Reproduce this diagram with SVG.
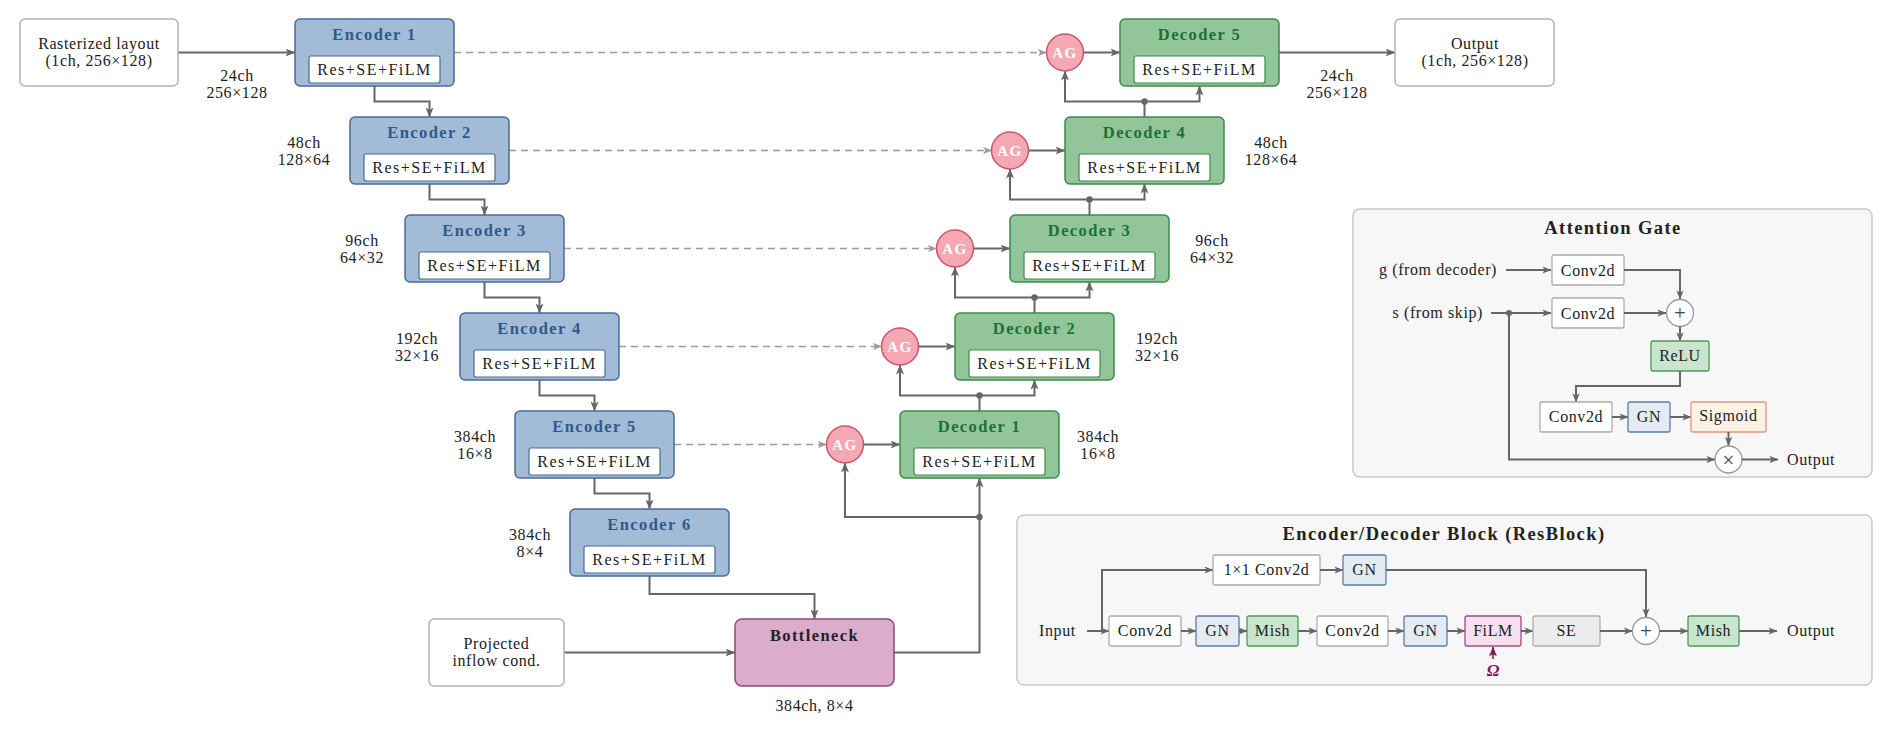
<svg xmlns="http://www.w3.org/2000/svg" width="1892" height="733" viewBox="0 0 1892 733">
<defs>
<style>
text{font-family:"Liberation Serif","Times New Roman",serif;fill:#222;}
.t{font-size:16px;letter-spacing:0.6px;}
.c{text-anchor:middle;}
.e{text-anchor:end;}
.opt{font-size:21px;text-anchor:middle;fill:#444;}
.res{font-size:16px;letter-spacing:1.5px;text-anchor:middle;}
.ttl{font-size:16.5px;font-weight:bold;letter-spacing:1.4px;text-anchor:middle;}
.enc-t{fill:#2f5a8b;}
.dec-t{fill:#1f7031;}
.ptitle{font-size:18.5px;font-weight:bold;letter-spacing:1.4px;text-anchor:middle;}
.ag-t{font-size:15px;font-weight:bold;letter-spacing:1.5px;text-anchor:middle;fill:#fff;}
.enc{fill:#a2bbd6;stroke:#4a6c96;stroke-width:1.5;}
.dec{fill:#93c59b;stroke:#3f8a4c;stroke-width:1.5;}
.in-e{fill:#fff;stroke:#4a6c96;stroke-width:1.2;}
.in-d{fill:#fff;stroke:#3f8a4c;stroke-width:1.2;}
.io{fill:#fff;stroke:#b3b3b3;stroke-width:1.5;}
.bott{fill:#dcadcb;stroke:#8c4a7a;stroke-width:1.5;}
.ag{fill:#f4a8b4;stroke:#c9566a;stroke-width:1.5;}
.panel{fill:#f7f7f7;stroke:#c9c9c9;stroke-width:1.5;}
.wb{fill:#fff;stroke:#acacac;stroke-width:1.3;}
.gn{fill:#e3ebf3;stroke:#5b7fa6;stroke-width:1.3;}
.gr{fill:#c9e5cd;stroke:#4e9a5c;stroke-width:1.3;}
.sig{fill:#fdf2e6;stroke:#e0987a;stroke-width:1.3;}
.film{fill:#f6e0ee;stroke:#9c4f86;stroke-width:1.3;}
.se{fill:#ececec;stroke:#b0b0b0;stroke-width:1.3;}
.op{fill:#fff;stroke:#9a9a9a;stroke-width:1.3;}
.ln{fill:none;stroke:#666;stroke-width:2;}
.la{fill:none;stroke:#666;stroke-width:2;marker-end:url(#ah);}
.ls{fill:none;stroke:#666;stroke-width:2;marker-end:url(#ahs);}
.dash{fill:none;stroke:#9a9a9a;stroke-width:1.5;stroke-dasharray:7 5;marker-end:url(#ahd);}
.dot{fill:#666;}
</style>
<marker id="ah" viewBox="0 0 10 8" refX="9.5" refY="4" markerWidth="10" markerHeight="8" markerUnits="userSpaceOnUse" orient="auto"><path d="M0,0 L10,4 L0,8 L2.5,4 Z" fill="#666"/></marker>
<marker id="ahs" viewBox="0 0 10 8" refX="9.5" refY="4" markerWidth="9" markerHeight="7.5" markerUnits="userSpaceOnUse" orient="auto"><path d="M0,0 L10,4 L0,8 L2.5,4 Z" fill="#666"/></marker>
<marker id="ahd" viewBox="0 0 10 8" refX="9.5" refY="4" markerWidth="9" markerHeight="7.5" markerUnits="userSpaceOnUse" orient="auto"><path d="M0,0 L10,4 L0,8 L2.5,4 Z" fill="#9a9a9a"/></marker>
<marker id="aho" viewBox="0 0 10 8" refX="9.5" refY="4" markerWidth="10" markerHeight="8" markerUnits="userSpaceOnUse" orient="auto"><path d="M0,0 L10,4 L0,8 L2.5,4 Z" fill="#7a1a5c"/></marker>
</defs>
<rect width="1892" height="733" fill="#fff"/>

<!-- connectors -->
<g id="connectors">
<path class="la" d="M178,52.5 H295"/>
<path class="la" d="M374.5,86 V101.5 H429.5 V117"/>
<path class="la" d="M429.5,184 V199.5 H484.5 V215"/>
<path class="la" d="M484.5,282 V297.5 H539.5 V313"/>
<path class="la" d="M539.5,380 V395.5 H594.5 V411"/>
<path class="la" d="M594.5,478 V493.5 H649.5 V509"/>
<path class="la" d="M649.5,576 V594 H814.5 V619"/>
<path class="la" d="M564,652.5 H735"/>
<path class="la" d="M894,652.5 H979.5 V478"/>
<path class="la" d="M979.5,517 H845 V463"/>
<circle class="dot" cx="979.5" cy="517" r="3.2"/>
<path class="dash" d="M454,52.5 H1046.5"/>
<path class="dash" d="M509,150.5 H991.5"/>
<path class="dash" d="M564,248.5 H936.5"/>
<path class="dash" d="M619,346.5 H881.5"/>
<path class="dash" d="M674,444.5 H826.5"/>
<path class="la" d="M863.5,444.5 H900"/>
<path class="la" d="M918.5,346.5 H955"/>
<path class="la" d="M973.5,248.5 H1010"/>
<path class="la" d="M1028.5,150.5 H1065"/>
<path class="la" d="M1083.5,52.5 H1120"/>
<path class="ln" d="M979.5,411 V395.5"/>
<path class="la" d="M979.5,395.5 H900 V365"/>
<path class="la" d="M979.5,395.5 H1034.5 V380"/>
<circle class="dot" cx="979.5" cy="395.5" r="3.2"/>
<path class="ln" d="M1034.5,313 V297.5"/>
<path class="la" d="M1034.5,297.5 H955 V267"/>
<path class="la" d="M1034.5,297.5 H1089.5 V282"/>
<circle class="dot" cx="1034.5" cy="297.5" r="3.2"/>
<path class="ln" d="M1089.5,215 V199.5"/>
<path class="la" d="M1089.5,199.5 H1010 V169"/>
<path class="la" d="M1089.5,199.5 H1144.5 V184"/>
<circle class="dot" cx="1089.5" cy="199.5" r="3.2"/>
<path class="ln" d="M1144.5,117 V101.5"/>
<path class="la" d="M1144.5,101.5 H1065 V71"/>
<path class="la" d="M1144.5,101.5 H1199.5 V86"/>
<circle class="dot" cx="1144.5" cy="101.5" r="3.2"/>
<path class="la" d="M1279,52.5 H1395"/>
</g>

<!-- main nodes -->
<g id="rasterized">
<rect class="io" x="20" y="19" width="158" height="67" rx="5"/>
<text class="t c" x="99" y="48.5">Rasterized layout</text>
<text class="t c" x="99" y="66">(1ch, 256×128)</text>
</g>
<g id="enc1-label"><text class="t c" x="237" y="81">24ch</text><text class="t c" x="237" y="97.5">256×128</text></g>

<g id="encoder1">
<rect class="enc" x="295" y="19" width="159" height="67" rx="5"/>
<text class="ttl enc-t" x="374.5" y="40">Encoder 1</text>
<rect class="in-e" x="309" y="56" width="131" height="27" rx="2"/>
<text class="res" x="374.5" y="75">Res+SE+FiLM</text>
</g>
<g id="encoder2">
<rect class="enc" x="350" y="117" width="159" height="67" rx="5"/>
<text class="ttl enc-t" x="429.5" y="138">Encoder 2</text>
<rect class="in-e" x="364" y="154" width="131" height="27" rx="2"/>
<text class="res" x="429.5" y="173">Res+SE+FiLM</text>
<text class="t c" x="304" y="147.5">48ch</text><text class="t c" x="304" y="164.5">128×64</text>
</g>
<g id="encoder3">
<rect class="enc" x="405" y="215" width="159" height="67" rx="5"/>
<text class="ttl enc-t" x="484.5" y="236">Encoder 3</text>
<rect class="in-e" x="419" y="252" width="131" height="27" rx="2"/>
<text class="res" x="484.5" y="271">Res+SE+FiLM</text>
<text class="t c" x="362" y="245.5">96ch</text><text class="t c" x="362" y="262.5">64×32</text>
</g>
<g id="encoder4">
<rect class="enc" x="460" y="313" width="159" height="67" rx="5"/>
<text class="ttl enc-t" x="539.5" y="334">Encoder 4</text>
<rect class="in-e" x="474" y="350" width="131" height="27" rx="2"/>
<text class="res" x="539.5" y="369">Res+SE+FiLM</text>
<text class="t c" x="417" y="343.5">192ch</text><text class="t c" x="417" y="360.5">32×16</text>
</g>
<g id="encoder5">
<rect class="enc" x="515" y="411" width="159" height="67" rx="5"/>
<text class="ttl enc-t" x="594.5" y="432">Encoder 5</text>
<rect class="in-e" x="529" y="448" width="131" height="27" rx="2"/>
<text class="res" x="594.5" y="467">Res+SE+FiLM</text>
<text class="t c" x="475" y="441.5">384ch</text><text class="t c" x="475" y="458.5">16×8</text>
</g>
<g id="encoder6">
<rect class="enc" x="570" y="509" width="159" height="67" rx="5"/>
<text class="ttl enc-t" x="649.5" y="530">Encoder 6</text>
<rect class="in-e" x="584" y="546" width="131" height="27" rx="2"/>
<text class="res" x="649.5" y="565">Res+SE+FiLM</text>
<text class="t c" x="530" y="539.5">384ch</text><text class="t c" x="530" y="556.5">8×4</text>
</g>

<g id="projected">
<rect class="io" x="429" y="619" width="135" height="67" rx="5"/>
<text class="t c" x="496.5" y="649">Projected</text>
<text class="t c" x="496.5" y="666">inflow cond.</text>
</g>
<g id="bottleneck">
<rect class="bott" x="735" y="619" width="159" height="67" rx="7"/>
<text class="ttl" x="814.5" y="641">Bottleneck</text>
<text class="t c" x="814.5" y="711">384ch, 8×4</text>
</g>

<g id="decoder1">
<rect class="dec" x="900" y="411" width="159" height="67" rx="5"/>
<text class="ttl dec-t" x="979.5" y="432">Decoder 1</text>
<rect class="in-d" x="914" y="448" width="131" height="27" rx="2"/>
<text class="res" x="979.5" y="467">Res+SE+FiLM</text>
<text class="t c" x="1098" y="441.5">384ch</text><text class="t c" x="1098" y="458.5">16×8</text>
</g>
<g id="decoder2">
<rect class="dec" x="955" y="313" width="159" height="67" rx="5"/>
<text class="ttl dec-t" x="1034.5" y="334">Decoder 2</text>
<rect class="in-d" x="969" y="350" width="131" height="27" rx="2"/>
<text class="res" x="1034.5" y="369">Res+SE+FiLM</text>
<text class="t c" x="1157" y="343.5">192ch</text><text class="t c" x="1157" y="360.5">32×16</text>
</g>
<g id="decoder3">
<rect class="dec" x="1010" y="215" width="159" height="67" rx="5"/>
<text class="ttl dec-t" x="1089.5" y="236">Decoder 3</text>
<rect class="in-d" x="1024" y="252" width="131" height="27" rx="2"/>
<text class="res" x="1089.5" y="271">Res+SE+FiLM</text>
<text class="t c" x="1212" y="245.5">96ch</text><text class="t c" x="1212" y="262.5">64×32</text>
</g>
<g id="decoder4">
<rect class="dec" x="1065" y="117" width="159" height="67" rx="5"/>
<text class="ttl dec-t" x="1144.5" y="138">Decoder 4</text>
<rect class="in-d" x="1079" y="154" width="131" height="27" rx="2"/>
<text class="res" x="1144.5" y="173">Res+SE+FiLM</text>
<text class="t c" x="1271" y="147.5">48ch</text><text class="t c" x="1271" y="164.5">128×64</text>
</g>
<g id="decoder5">
<rect class="dec" x="1120" y="19" width="159" height="67" rx="5"/>
<text class="ttl dec-t" x="1199.5" y="40">Decoder 5</text>
<rect class="in-d" x="1134" y="56" width="131" height="27" rx="2"/>
<text class="res" x="1199.5" y="75">Res+SE+FiLM</text>
</g>
<g id="dec5-label"><text class="t c" x="1337" y="81">24ch</text><text class="t c" x="1337" y="97.5">256×128</text></g>
<g id="output">
<rect class="io" x="1395" y="19" width="159" height="67" rx="5"/>
<text class="t c" x="1475" y="48.5">Output</text>
<text class="t c" x="1475" y="66">(1ch, 256×128)</text>
</g>

<g id="ag1"><circle class="ag" cx="845" cy="444.5" r="18.5"/><text class="ag-t" x="845" y="449.5">AG</text></g>
<g id="ag2"><circle class="ag" cx="900" cy="346.5" r="18.5"/><text class="ag-t" x="900" y="351.5">AG</text></g>
<g id="ag3"><circle class="ag" cx="955" cy="248.5" r="18.5"/><text class="ag-t" x="955" y="253.5">AG</text></g>
<g id="ag4"><circle class="ag" cx="1010" cy="150.5" r="18.5"/><text class="ag-t" x="1010" y="155.5">AG</text></g>
<g id="ag5"><circle class="ag" cx="1065" cy="52.5" r="18.5"/><text class="ag-t" x="1065" y="57.5">AG</text></g>

<!-- Attention Gate panel -->
<g id="attention-gate">
<rect class="panel" x="1353" y="209" width="519" height="268" rx="7"/>
<text class="ptitle" x="1613" y="233.5">Attention Gate</text>
<text class="t e" x="1497" y="275">g (from decoder)</text>
<text class="t e" x="1483" y="318">s (from skip)</text>
<path class="ls" d="M1506,270 H1551"/>
<path class="ls" d="M1491,313 H1551"/>
<circle class="dot" cx="1509" cy="313" r="3"/>
<rect class="wb" x="1552" y="255" width="72" height="30" rx="2"/>
<text class="t c" x="1588" y="275.5">Conv2d</text>
<rect class="wb" x="1552" y="298" width="72" height="30" rx="2"/>
<text class="t c" x="1588" y="318.5">Conv2d</text>
<path class="ls" d="M1624,270 H1680 V299"/>
<path class="ls" d="M1624,313 H1666"/>
<circle class="op" cx="1680" cy="313" r="13.5"/>
<text class="opt" x="1680" y="320">+</text>
<path class="ls" d="M1680,326.5 V341"/>
<rect class="gr" x="1651" y="341" width="58" height="30" rx="2"/>
<text class="t c" x="1680" y="361">ReLU</text>
<path class="ls" d="M1680,371 V386 H1576 V402"/>
<rect class="wb" x="1540" y="402" width="72" height="30" rx="2"/>
<text class="t c" x="1576" y="422">Conv2d</text>
<path class="ls" d="M1612,417 H1628"/>
<rect class="gn" x="1628" y="402" width="42" height="30" rx="2"/>
<text class="t c" x="1649" y="422">GN</text>
<path class="ls" d="M1670,417 H1691"/>
<rect class="sig" x="1691" y="402" width="75" height="30" rx="2"/>
<text class="t c" x="1728.5" y="421">Sigmoid</text>
<path class="ls" d="M1728.5,432 V445.5"/>
<path class="ls" d="M1509,313 V459.5 H1715"/>
<circle class="op" cx="1728.5" cy="459.5" r="13.5"/>
<text class="opt" x="1728.5" y="466.5">×</text>
<path class="ls" d="M1742,459.5 H1778"/>
<text class="t" x="1787" y="464.5">Output</text>
</g>

<!-- ResBlock panel -->
<g id="resblock">
<rect class="panel" x="1017" y="515" width="855" height="170" rx="7"/>
<text class="ptitle" x="1444" y="539.5">Encoder/Decoder Block (ResBlock)</text>
<text class="t" x="1039" y="636">Input</text>
<path class="ls" d="M1087,631 H1109"/>
<path class="ls" d="M1102,631 V570 H1213"/>
<rect class="wb" x="1213" y="555" width="107" height="30" rx="2"/>
<text class="t c" x="1266.5" y="575">1×1 Conv2d</text>
<path class="ls" d="M1320,570 H1343"/>
<rect class="gn" x="1343" y="555" width="43" height="30" rx="2"/>
<text class="t c" x="1364.5" y="575">GN</text>
<path class="ls" d="M1386,570 H1646 V617"/>
<rect class="wb" x="1109" y="616" width="72" height="30" rx="2"/>
<text class="t c" x="1145" y="636">Conv2d</text>
<path class="ls" d="M1181,631 H1196"/>
<rect class="gn" x="1196" y="616" width="43" height="30" rx="2"/>
<text class="t c" x="1217.5" y="636">GN</text>
<path class="ls" d="M1239,631 H1247"/>
<rect class="gr" x="1247" y="616" width="51" height="30" rx="2"/>
<text class="t c" x="1272.5" y="636">Mish</text>
<path class="ls" d="M1298,631 H1317"/>
<rect class="wb" x="1317" y="616" width="71" height="30" rx="2"/>
<text class="t c" x="1352.5" y="636">Conv2d</text>
<path class="ls" d="M1388,631 H1404"/>
<rect class="gn" x="1404" y="616" width="43" height="30" rx="2"/>
<text class="t c" x="1425.5" y="636">GN</text>
<path class="ls" d="M1447,631 H1465"/>
<rect class="film" x="1465" y="616" width="56" height="30" rx="2"/>
<text class="t c" x="1493" y="636">FiLM</text>
<path class="ls" d="M1521,631 H1533"/>
<rect class="se" x="1533" y="616" width="67" height="30" rx="2"/>
<text class="t c" x="1566.5" y="636">SE</text>
<path class="ls" d="M1600,631 H1632.5"/>
<circle class="op" cx="1646" cy="631" r="13.5"/>
<text class="opt" x="1646" y="638">+</text>
<path class="ls" d="M1659.5,631 H1688"/>
<rect class="gr" x="1688" y="616" width="51" height="30" rx="2"/>
<text class="t c" x="1713.5" y="636">Mish</text>
<path class="ls" d="M1739,631 H1777"/>
<text class="t" x="1787" y="636">Output</text>
<path d="M1493,659 V647" fill="none" stroke="#7a1a5c" stroke-width="1.5" marker-end="url(#aho)"/>
<text x="1493" y="676" text-anchor="middle" font-size="17" font-weight="bold" font-style="italic" style="fill:#7a1a5c">Ω</text>
</g>
</svg>
